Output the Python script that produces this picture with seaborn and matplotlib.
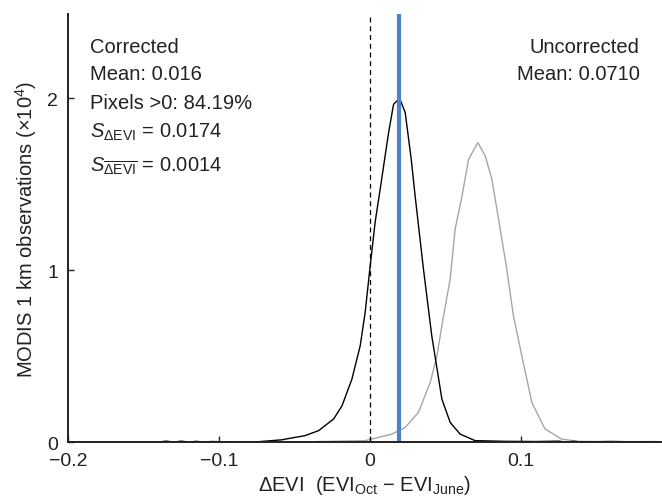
import numpy as np
import pandas as pd
import seaborn as sns
import matplotlib.pyplot as plt

# values (dEVI, observations x 10^4)
corr_x = [-0.2, -0.14, -0.135, -0.13, -0.125, -0.12, -0.115, -0.11, -0.105, -0.1, -0.09,
          -0.075, -0.058, -0.056, -0.043, -0.034, -0.024, -0.0185, -0.0119, -0.0064,
          -0.0031, 0.0002, 0.0035, 0.0068, 0.0124, 0.0157, 0.0197, 0.0234, 0.0274,
          0.030, 0.0355, 0.041, 0.0477, 0.0532, 0.0598, 0.0697, 0.09, 0.11, 0.125,
          0.13, 0.135, 0.14, 0.19]
corr_y = [0.0, 0.0, 0.005, 0.0, 0.005, 0.0, 0.004, 0.0, 0.003, 0.002, 0.001,
          0.001, 0.013, 0.017, 0.037, 0.066, 0.134, 0.21, 0.366, 0.56,
          0.756, 1.025, 1.28, 1.47, 1.80, 1.965, 2.00, 1.917, 1.645,
          1.43, 1.006, 0.618, 0.25, 0.114, 0.046, 0.008, 0.004, 0.003, 0.005,
          0.0, 0.004, 0.0, 0.0]

unc_x = [-0.05, -0.003, 0.0146, 0.0234, 0.0322, 0.040, 0.0444, 0.0488, 0.0532,
         0.0565, 0.061, 0.0654, 0.0715, 0.0764, 0.0808, 0.0852, 0.0907, 0.0951,
         0.1007, 0.1073, 0.116, 0.127, 0.138, 0.15, 0.16, 0.17, 0.19]
unc_y = [0.0, 0.008, 0.046, 0.085, 0.173, 0.347, 0.50, 0.734, 0.948,
         1.24, 1.43, 1.645, 1.742, 1.665, 1.53, 1.30, 1.006, 0.734,
         0.50, 0.23, 0.076, 0.017, 0.004, 0.003, 0.006, 0.002, 0.003]

mean_line = 0.0192
xticks = [-0.2, -0.1, 0, 0.1]
xticklabels = ['\u22120.2', '\u22120.1', '0', '0.1']
yticks = [0, 1, 2]

sns.set_style("ticks")
plt.rcParams['font.family'] = ['Liberation Sans', 'DejaVu Sans']
plt.rcParams['mathtext.fontset'] = 'custom'
plt.rcParams['mathtext.rm'] = 'Liberation Sans'
plt.rcParams['mathtext.it'] = 'Liberation Sans:italic'
plt.rcParams['mathtext.sf'] = 'Liberation Sans'

df_c = pd.DataFrame({"x": corr_x, "y": corr_y})
df_u = pd.DataFrame({"x": unc_x, "y": unc_y})

fs = 14.5
fig = plt.figure(figsize=(6.62, 5.02), dpi=100)
ax = fig.add_axes([0.1027, 0.1175, 0.897, 0.8525])

sns.lineplot(data=df_u, x="x", y="y", ax=ax, color="#a6a6a6", linewidth=1.0, sort=False)
sns.lineplot(data=df_c, x="x", y="y", ax=ax, color="black", linewidth=1.0, sort=False)
ax.axvline(0, color="black", linestyle=(0, (4, 3)), linewidth=0.9)
ax.axvline(mean_line, color="#4f81c7", linewidth=3.0)

ax.set_xlim(-0.2, 0.1934)
ax.set_ylim(0, 2.49)
ax.set_xticks(xticks)
ax.set_xticklabels(xticklabels)
ax.set_yticks(yticks)
ax.tick_params(direction="in", length=4, width=1, labelsize=14, colors="#222222", pad=7)
ax.tick_params(axis="x", pad=7)
sns.despine(ax=ax)
for s in ["left", "bottom"]:
    ax.spines[s].set_linewidth(1.4)
    ax.spines[s].set_color("#222222")

ax.set_xlabel('\u0394EVI  (EVI$_{\\mathrm{Oct}}$ \u2212 EVI$_{\\mathrm{June}}$)', fontsize=fs, color="#222222", labelpad=3)
ax.set_ylabel('MODIS 1 km observations (\u00d710$^{4}$)', fontsize=fs, color="#222222", labelpad=6)

tk = dict(transform=ax.transAxes, fontsize=fs, color="#222222")
ax.text(0.037, 0.925, "Corrected", va="center", ha="left", **tk)
ax.text(0.037, 0.860, "Mean: 0.016", va="center", ha="left", **tk)
ax.text(0.037, 0.794, "Pixels >0: 84.19%", va="center", ha="left", **tk)
ax.text(0.037, 0.725, "$S_{\\Delta\\mathrm{EVI}}$ = 0.0174", va="center", ha="left", **tk)
ax.text(0.037, 0.645, "$S_{\\overline{\\Delta\\mathrm{EVI}}}$ = 0.0014", va="center", ha="left", **tk)
ax.text(0.963, 0.925, "Uncorrected", va="center", ha="right", **tk)
ax.text(0.963, 0.860, "Mean: 0.0710", va="center", ha="right", **tk)

fig.savefig("out.png", dpi=100)
